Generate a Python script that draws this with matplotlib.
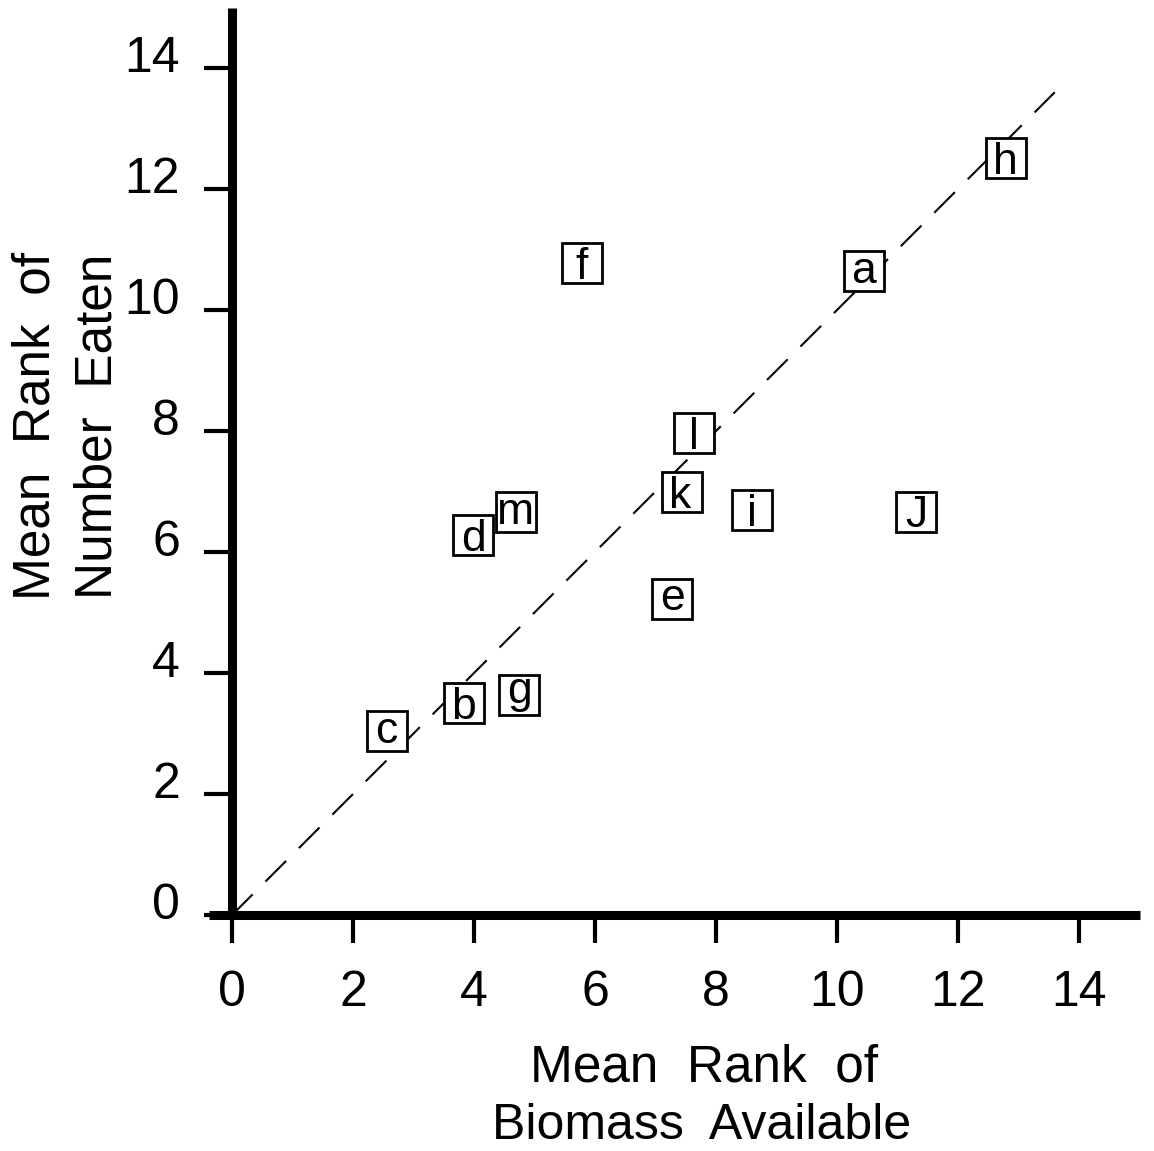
import matplotlib
matplotlib.use("Agg")
import matplotlib.pyplot as plt
import matplotlib.transforms as mtransforms
from matplotlib.textpath import TextPath
from matplotlib.font_manager import FontProperties

plt.rcParams['font.family'] = ['Liberation Sans', 'DejaVu Sans']

# Data
labels = ['a', 'b', 'c', 'd', 'e', 'f', 'g', 'h', 'i', 'J', 'k', 'l', 'm']
biomass_rank = [10.45, 3.83, 2.56, 3.98, 7.28, 5.79, 4.74, 12.79, 8.59, 11.30, 7.43, 7.63, 4.69]
eaten_rank = [10.64, 3.50, 3.04, 6.28, 5.23, 10.78, 3.63, 12.51, 6.69, 6.66, 7.00, 7.97, 6.66]
line_x = [0, 13.6]
line_y = [0, 13.6]
ticks = [0, 2, 4, 6, 8, 10, 12, 14]

W, H = 1154, 1151
fig = plt.figure(figsize=(W / 100, H / 100), dpi=100)
ax = fig.add_axes([232 / W, (H - 915) / H, 907.5 / W, 907.5 / H])
ax.set_xlim(0, 15)
ax.set_ylim(0, 15)

for s in ['top', 'right']:
    ax.spines[s].set_visible(False)
for s in ['left', 'bottom']:
    ax.spines[s].set_linewidth(6.5)
    ax.spines[s].set_capstyle('butt')
ax.spines['bottom'].set_bounds(-0.38, 15)

ax.set_xticks(ticks)
ax.set_yticks(ticks)
ax.tick_params(direction='out', length=20.5, width=3, labelsize=36, color='black')
ax.tick_params(axis='x', pad=19)
ax.tick_params(axis='y', pad=17)

off = mtransforms.ScaledTranslation(0, 10 / 72, fig.dpi_scale_trans)
for lab in ax.get_yticklabels():
    lab.set_transform(lab.get_transform() + off)

# dashed 1:1 line
ln, = ax.plot(line_x, line_y, color='black', lw=1.5, zorder=2)
ln.set_dashes((14, 8.7))

# boxes and letters (each glyph centred on its box)
ax.plot(biomass_rank, eaten_rank, linestyle='none', marker='s', ms=28.5,
        mfc='white', mec='black', mew=2.0, zorder=3, clip_on=False)
fs = 32
fp = FontProperties(family='Liberation Sans', size=fs)
for lx, ly, t in zip(biomass_rank, eaten_rank, labels):
    ext = TextPath((0, 0), t, size=fs, prop=fp).get_extents()
    cx = (ext.x0 + ext.x1) / 2
    cy = (ext.y0 + ext.y1) / 2
    ax.annotate(t, (lx, ly), xytext=(-cx, -cy), textcoords='offset points',
                ha='left', va='baseline', fontsize=fs, zorder=4)

# axis labels
fig.text(704 / W, (H - 1082) / H, 'Mean  Rank  of', ha='center', va='baseline', fontsize=37)
fig.text(702 / W, (H - 1139) / H, 'Biomass  Available', ha='center', va='baseline', fontsize=36)
fig.text(50 / W, (H - 426) / H, 'Mean  Rank  of', ha='center', va='baseline',
         rotation=90, rotation_mode='anchor', fontsize=37)
fig.text(112 / W, (H - 426) / H, 'Number  Eaten', ha='center', va='baseline',
         rotation=90, rotation_mode='anchor', fontsize=37)

fig.savefig('out.png', dpi=100)
